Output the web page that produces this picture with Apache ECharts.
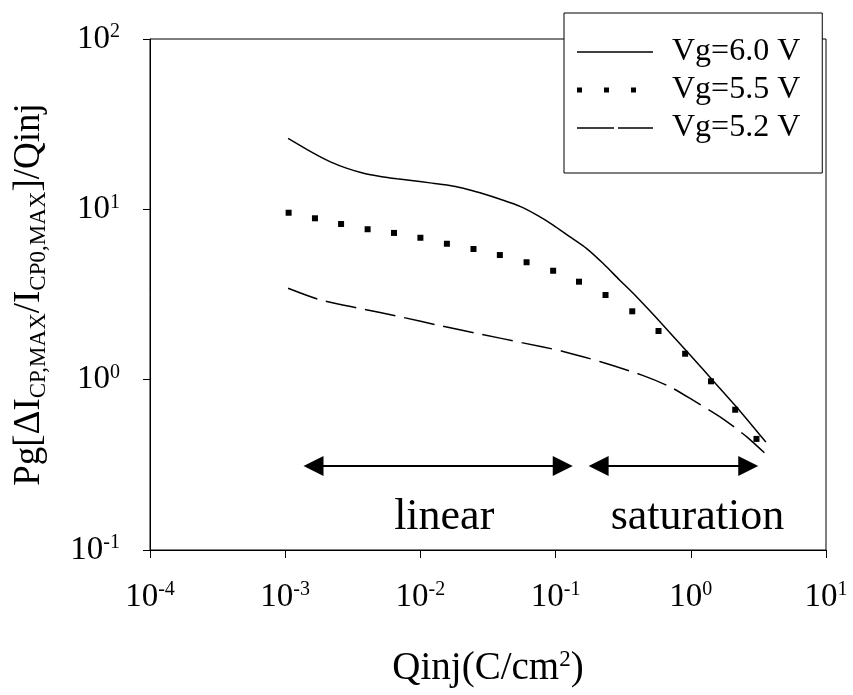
<!DOCTYPE html>
<html>
<head>
<meta charset="utf-8">
<script src="https://cdn.jsdelivr.net/npm/echarts@6/dist/echarts.min.js"></script>
<style>
html, body { margin: 0; padding: 0; background: #fff; }
#main { width: 853px; height: 695px; }
</style>
</head>
<body>
<div id="main"></div>
<script>
// 数据：三条曲线
var seriesNames = ['Vg=6.0 V', 'Vg=5.5 V', 'Vg=5.2 V'];
var xTickExp = [-4, -3, -2, -1, 0, 1];
var yTickExp = [-1, 0, 1, 2];

var qinj60 = [0.00105, 0.00163, 0.00216, 0.00287, 0.0038, 0.00506, 0.00671, 0.00889, 0.0118, 0.0157, 0.0208, 0.0276, 0.041, 0.0545, 0.0723, 0.0959, 0.127, 0.169, 0.224, 0.297, 0.395, 0.524, 0.695, 1.0, 1.5, 2.21, 3.59];
var pg60 = [26.1, 21.3, 19.0, 17.4, 16.3, 15.6, 15.1, 14.7, 14.3, 13.9, 13.3, 12.5, 11.3, 10.4, 9.27, 8.09, 6.91, 5.90, 4.82, 3.85, 3.08, 2.43, 1.90, 1.38, 0.964, 0.682, 0.43];

var qinj55 = [0.00106, 0.00166, 0.00259, 0.00407, 0.00638, 0.0100, 0.0157, 0.0247, 0.0387, 0.0610, 0.0959, 0.149, 0.234, 0.369, 0.577, 0.908, 1.41, 2.13, 3.06];
var pg55 = [9.55, 8.86, 8.20, 7.64, 7.27, 6.81, 6.28, 5.85, 5.39, 4.89, 4.36, 3.76, 3.14, 2.52, 1.93, 1.42, 0.978, 0.666, 0.449];

var qinj52 = [0.00105, 0.00177, 0.00356, 0.0071, 0.0142, 0.028, 0.056, 0.112, 0.218, 0.44, 0.70, 1.03, 1.75, 2.61, 3.5];
var pg52 = [3.44, 2.96, 2.62, 2.34, 2.07, 1.85, 1.65, 1.47, 1.27, 1.06, 0.909, 0.760, 0.585, 0.460, 0.372];

// 箭头和文字标注 (数据坐标)
var regionNames = ['linear', 'saturation'];
var regionArrows = [[0.00162, 0.113], [0.208, 2.66]];
var arrowLevel = 0.311;
var regionTextX = [0.0150, 1.12];
var regionTextY = 0.156;

var font = "'Liberation Serif', 'Times New Roman', serif";

function pairs(xs, ys) {
    return xs.map(function (x, i) { return [x, ys[i]]; });
}
function expLabel(list) {
    return function (v) {
        var e = Math.round(Math.log10(v));
        if (list.indexOf(e) < 0) return '';
        return '{b|10}{s|' + e + '}';
    };
}
var tickRich = {
    b: { fontSize: 33, fontFamily: font, color: '#000', lineHeight: 34 },
    s: { fontSize: 20, fontFamily: font, color: '#000', verticalAlign: 'top', lineHeight: 20 }
};

// 图例图标 (76x14 的框)
var iconSolid = 'path://M0,0M76,14M0,6.3h76v1.4h-76z';
var iconDots = 'path://M0,0M76,14M0,4.5h5v5h-5zM27,4.5h5v5h-5zM54,4.5h5v5h-5z';
var iconDash = 'path://M0,0M76,14M0,6.3h37v1.4h-37zM41,6.3h35v1.4h-35z';

var option = {
    animation: false,
    backgroundColor: '#fff',
    grid: {
        left: 149, right: 27, top: 39, bottom: 145,
        show: true, borderColor: '#000', borderWidth: 1
    },
    legend: {
        orient: 'vertical',
        left: 564, top: 13,
        padding: [20, 22, 26, 13],
        itemGap: 0,
        itemWidth: 76, itemHeight: 14,
        backgroundColor: '#fff',
        borderColor: '#000', borderWidth: 1,
        textStyle: { fontSize: 32, fontFamily: font, color: '#000', lineHeight: 38, padding: [0, 0, 0, 14] },
        data: [
            { name: seriesNames[0], icon: iconSolid },
            { name: seriesNames[1], icon: iconDots },
            { name: seriesNames[2], icon: iconDash }
        ]
    },
    xAxis: {
        type: 'log', logBase: 10, min: 1e-4, max: 10,
        name: 'Qinj(C/cm{sup|2})',
        nameLocation: 'middle', nameGap: 98,
        nameTextStyle: {
            fontSize: 39, fontFamily: font, color: '#000', lineHeight: 42,
            rich: { sup: { fontSize: 23, fontFamily: font, color: '#000', verticalAlign: 'top', lineHeight: 22 } }
        },
        axisLine: { lineStyle: { color: '#000', width: 1 } },
        axisTick: { length: 8, lineStyle: { color: '#000' } },
        axisLabel: { margin: 30, formatter: expLabel(xTickExp), rich: tickRich },
        splitLine: { show: false }
    },
    yAxis: {
        type: 'log', logBase: 10, min: 0.1, max: 100,
        name: 'Pg[ΔI{sub|CP,MAX}/I{sub|CP0,MAX}]/Qinj',
        nameLocation: 'middle', nameRotate: 90, nameGap: 100,
        nameTextStyle: {
            fontSize: 37, fontFamily: font, color: '#000', lineHeight: 42,
            rich: { sub: { fontSize: 23, fontFamily: font, color: '#000', verticalAlign: 'bottom', lineHeight: 22 } }
        },
        axisLine: { lineStyle: { color: '#000', width: 1 } },
        axisTick: { length: 7, lineStyle: { color: '#000' } },
        axisLabel: { margin: 30, formatter: expLabel(yTickExp), rich: tickRich },
        splitLine: { show: false }
    },
    series: [
        {
            name: seriesNames[0], type: 'line', smooth: 0.25, symbol: 'none',
            data: pairs(qinj60, pg60),
            itemStyle: { color: '#000' },
            lineStyle: { color: '#000', width: 1.5 }
        },
        {
            name: seriesNames[1], type: 'line', symbol: 'rect', symbolSize: 6, showSymbol: true,
            data: pairs(qinj55, pg55),
            itemStyle: { color: '#000' },
            lineStyle: { width: 0, opacity: 0 }
        },
        {
            name: seriesNames[2], type: 'line', smooth: 0.25, symbol: 'none',
            data: pairs(qinj52, pg52),
            itemStyle: { color: '#000' },
            lineStyle: { color: '#000', width: 1.5, type: [31, 9] }
        },
        {
            name: 'regions', type: 'scatter', symbolSize: 0, silent: true,
            data: regionNames.map(function (n, i) { return { name: n, value: [regionTextX[i], regionTextY] }; }),
            itemStyle: { color: '#000', opacity: 1 },
            label: {
                show: true, position: 'inside', formatter: '{b}',
                fontSize: 44, fontFamily: font, color: '#000',
                textBorderWidth: 0, opacity: 1
            },
            markLine: {
                silent: true, symbol: ['triangle', 'triangle'], symbolSize: 20,
                label: { show: false },
                itemStyle: { color: '#000' },
                lineStyle: { color: '#000', width: 2, type: 'solid', opacity: 1 },
                data: regionArrows.map(function (r) {
                    return [{ coord: [r[0], arrowLevel] }, { coord: [r[1], arrowLevel] }];
                })
            }
        }
    ]
};

var chart = echarts.init(document.getElementById('main'));
chart.setOption(option);
</script>
</body>
</html>
